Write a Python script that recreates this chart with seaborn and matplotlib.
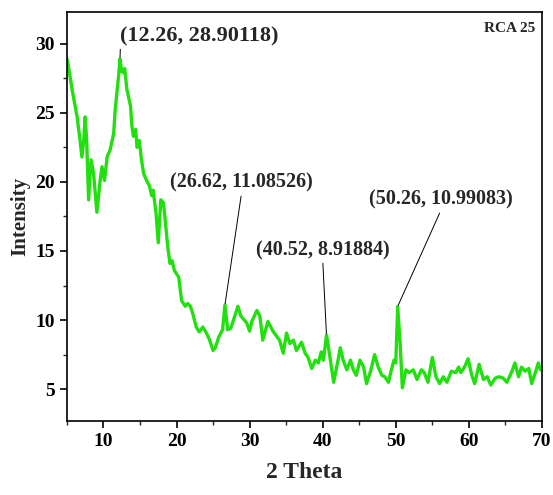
import matplotlib
matplotlib.use("Agg")
import matplotlib.pyplot as plt
import seaborn as sns
import pandas as pd
from matplotlib.ticker import MultipleLocator

two_theta = [5.0, 5.2, 5.7, 6.4, 6.8, 7.05, 7.3, 7.5, 7.7, 7.97, 8.3, 8.65, 9.1, 9.55, 9.8,
             10.15, 10.5, 10.9, 11.4, 11.6, 11.98, 12.1, 12.26, 12.5, 12.75, 12.9, 13.2, 13.7,
             13.9, 14.1, 14.4, 14.6, 14.9, 15.2, 15.5, 15.9, 16.3, 16.6, 16.8, 17.2, 17.5,
             17.85, 18.2, 18.4, 18.8, 19.1, 19.4, 19.7, 20.3, 20.7, 21.2, 21.5, 21.9, 22.2,
             22.7, 23.1, 23.6, 24.1, 24.5, 25.0, 25.3, 25.8, 26.3, 26.62, 27.0, 27.4, 27.7,
             28.4, 28.8, 29.6, 30.0, 30.3, 31.0, 31.4, 31.8, 32.5, 33.2, 33.6, 34.1, 34.6,
             35.05, 35.5, 36.0, 36.4, 37.1, 37.6, 38.0, 38.5, 39.0, 39.4, 39.8, 40.1, 40.52,
             41.0, 41.5, 42.1, 42.4, 42.8, 43.3, 43.8, 44.2, 44.6, 45.1, 45.6, 46.0, 46.6,
             47.1, 47.6, 48.1, 48.5, 49.0, 49.4, 49.75, 50.0, 50.26, 50.6, 50.9, 51.4, 51.8,
             52.4, 52.9, 53.5, 53.9, 54.4, 55.0, 55.5, 56.0, 56.5, 57.0, 57.6, 58.2, 58.6,
             58.9, 59.4, 59.9, 60.4, 60.8, 61.4, 62.0, 62.5, 63.0, 63.6, 64.1, 64.7, 65.2,
             65.9, 66.3, 66.8, 67.2, 67.7, 68.2, 68.6, 69.1, 69.5, 69.8, 70.0]
intensity = [28.9, 28.4, 26.7, 24.7, 23.0, 21.8, 23.0, 24.7, 23.0, 18.7, 21.6, 20.6, 17.8, 20.1, 21.1,
             20.1, 21.8, 22.3, 23.5, 25.2, 27.2, 27.8, 28.9, 28.0, 27.9, 28.2, 26.7, 25.5,
             24.0, 23.3, 23.8, 22.5, 23.0, 21.6, 20.6, 20.1, 19.7, 19.0, 19.4, 17.7, 15.6,
             18.7, 18.5, 17.5, 15.3, 14.1, 14.3, 13.6, 13.1, 11.4, 11.0, 11.2, 11.0, 10.5,
             9.5, 9.15, 9.5, 9.05, 8.6, 7.8, 8.0, 8.8, 9.3, 11.09, 9.3, 9.4, 9.85,
             11.0, 10.3, 9.8, 9.2, 9.9, 10.7, 10.3, 8.55, 9.9, 9.2, 8.9, 8.55, 7.6,
             9.06, 8.3, 8.55, 7.8, 8.4, 7.6, 7.3, 6.5, 7.1, 6.9, 7.7, 7.1, 8.92,
             7.3, 5.5, 7.1, 8.0, 7.1, 6.4, 7.1, 6.4, 6.0, 7.1, 6.6, 5.4, 6.4,
             7.5, 6.6, 6.0, 5.9, 5.5, 6.4, 7.1, 6.9, 10.99, 8.3, 5.1, 6.4, 6.2,
             6.4, 5.7, 6.4, 6.2, 5.5, 7.3, 5.9, 5.4, 5.9, 5.5, 6.3, 6.2, 6.6,
             6.2, 6.6, 7.2, 6.0, 5.4, 6.8, 5.7, 5.9, 5.3, 5.8, 5.9, 5.8, 5.5,
             6.3, 6.9, 5.9, 6.6, 6.3, 6.5, 5.4, 6.2, 6.9, 6.4, 6.6]

peak_x = [12.26, 26.62, 40.52, 50.26]
peak_y = [28.90118, 11.08526, 8.91884, 10.99083]
peak_labels = ["(12.26, 28.90118)", "(26.62, 11.08526)", "(40.52, 8.91884)", "(50.26, 10.99083)"]
label_pos = [(12.32, 30.55), (28.9, 19.93), (40.0, 15.07), (56.2, 18.7)]
label_ha = ['left', 'center', 'center', 'center']
label_relpos = [(0.0, 0.0), (0.5, 0.0), (0.5, 0.0), (0.5, 0.0)]
label_size = [16, 14.5, 14.5, 14.5]

sample_name = "RCA 25"

sns.set_style("ticks")
plt.rcParams['font.family'] = ['Liberation Serif', 'DejaVu Serif']
plt.rcParams['font.weight'] = 'bold'

fig = plt.figure(figsize=(5.53, 4.95), dpi=100)
ax = fig.add_axes([0.121, 0.1495, 0.859, 0.8265])

df = pd.DataFrame({"2 Theta": two_theta, "Intensity": intensity})
sns.lineplot(data=df, x="2 Theta", y="Intensity", ax=ax, color="#22e010",
             linewidth=2.4, sort=False, estimator=None)

ax.set_xlim(5, 70)
ax.set_ylim(2.7, 32.3)
ax.xaxis.set_major_locator(MultipleLocator(10))
ax.xaxis.set_minor_locator(MultipleLocator(5))
ax.yaxis.set_major_locator(MultipleLocator(5))
ax.yaxis.set_minor_locator(MultipleLocator(2.5))
ax.tick_params(axis='both', which='major', direction='out', length=5, width=1.2,
               labelsize=14, colors='black')
ax.tick_params(axis='both', which='minor', direction='out', length=3, width=1.0)
ax.tick_params(top=False, right=False, which='both')
for lab in ax.get_xticklabels() + ax.get_yticklabels():
    lab.set_fontweight('bold')
for s in ax.spines.values():
    s.set_linewidth(1.2)
    s.set_color('black')

ax.set_xlabel("2 Theta", fontsize=17, fontweight='bold', labelpad=9)
ax.set_ylabel("Intensity", fontsize=15, fontweight='bold', labelpad=4)

for px, py, lab, pos, ha, rp, fs in zip(peak_x, peak_y, peak_labels, label_pos,
                                        label_ha, label_relpos, label_size):
    ax.annotate(lab, xy=(px, py), xytext=pos, ha=ha, va='center',
                fontsize=fs, fontweight='bold',
                arrowprops=dict(arrowstyle='-', color='black', lw=0.7,
                                shrinkA=0, shrinkB=1, relpos=rp))

ax.text(0.985, 0.975, sample_name, transform=ax.transAxes, ha='right', va='top',
        fontsize=11, fontweight='bold')

fig.savefig("out.png", dpi=100)
